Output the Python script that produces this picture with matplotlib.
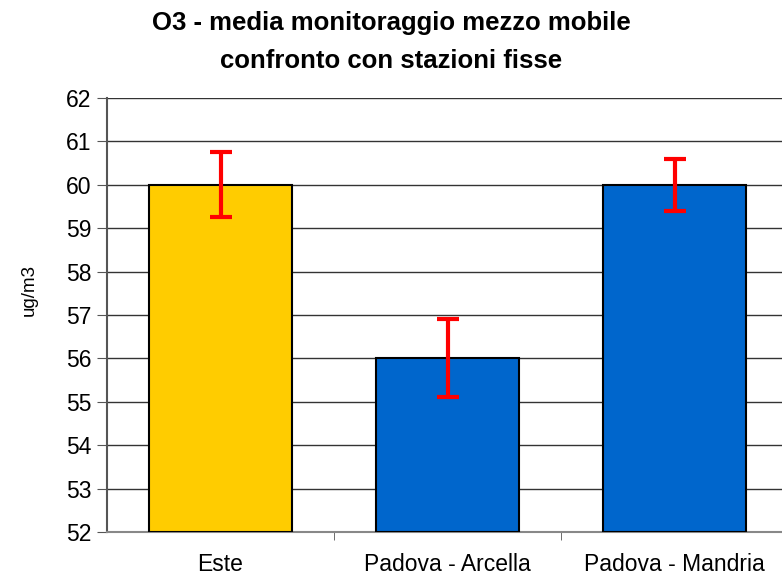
import numpy as np
import matplotlib.pyplot as plt

plt.rcParams['font.family'] = ['Liberation Sans', 'DejaVu Sans']

# Data
stazioni = ['Este', 'Padova - Arcella', 'Padova - Mandria']
media = [60.0, 56.0, 60.0]
errore = [0.75, 0.9, 0.6]
colori = ['#FFCC00', '#0066CC', '#0066CC']

fig = plt.figure(figsize=(7.82, 5.77), dpi=100)
ax = fig.add_axes([107/782, 45/577, 681/782, 434/577])

x = np.arange(len(stazioni))
ax.bar(x, np.array(media) - 52, bottom=52, width=0.63, color=colori,
       edgecolor='black', linewidth=1.5, zorder=3)
ax.errorbar(x, media, yerr=errore, fmt='none', ecolor='#FF0000',
            elinewidth=3, capsize=8, capthick=3, zorder=4)

ax.set_ylim(52, 62)
ax.set_xlim(-0.5, 2.5)
ax.set_yticks(range(52, 63))
ax.yaxis.grid(True, color='#333333', linewidth=1)
ax.set_axisbelow(True)
ax.set_xticks(x)
ax.set_xticklabels(stazioni, fontsize=16.5)
ax.set_xticks([0.5, 1.5], minor=True)
ax.tick_params(axis='x', which='major', length=0, pad=15)
ax.tick_params(axis='x', which='minor', length=6, color='#555555')
ax.tick_params(axis='y', labelsize=16.5, length=7, color='#555555', pad=4)
for s in ['top', 'right']:
    ax.spines[s].set_visible(False)
ax.spines['left'].set_color('#555555')
ax.spines['left'].set_linewidth(1.5)
ax.spines['bottom'].set_color('#888888')
ax.spines['bottom'].set_linewidth(1.5)

ax.set_ylabel('ug/m3', fontsize=13.5)
ax.yaxis.set_label_coords(-0.101, 0.557)
fig.suptitle('O3 - media monitoraggio mezzo mobile\nconfronto con stazioni fisse',
             fontsize=18.5, fontweight='bold', y=0.981, linespacing=1.75)

fig.savefig('out.png', dpi=100)
